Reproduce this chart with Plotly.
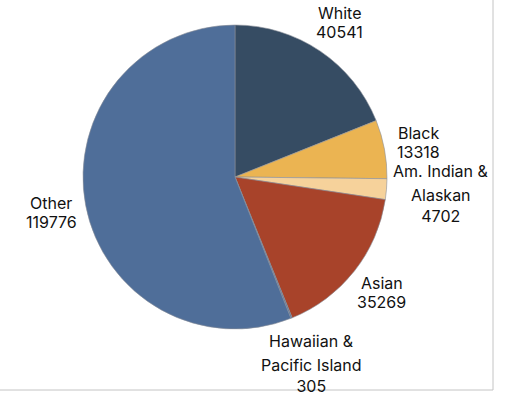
import math
import plotly.graph_objects as go

# Population by race
categories = ["White", "Black", "Am. Indian & Alaskan", "Asian",
              "Hawaiian & Pacific Island", "Other"]
label_lines = [["White"], ["Black"], ["Am. Indian &", "Alaskan"], ["Asian"],
               ["Hawaiian &", "Pacific Island"], ["Other"]]
values = [40541, 13318, 4702, 35269, 305, 119776]
colors = ["#364c63", "#ebb452", "#f6d29b", "#a8432a", "#5a7399", "#4f6e99"]

W, H = 506, 396
cx, cy, r = 235, 177, 152
FONT = dict(family="Inter, Liberation Sans, sans-serif", size=16, color="#111111")

fig = go.Figure(go.Pie(
    labels=categories,
    values=values,
    sort=False,
    direction="clockwise",
    rotation=0,
    marker=dict(colors=colors, line=dict(color="#8a8f99", width=0.6)),
    textinfo="none",
    hoverinfo="label+value",
    showlegend=False,
    domain=dict(x=[(cx - r) / W, (cx + r) / W],
                y=[(H - cy - r) / H, (H - cy + r) / H]),
))

# Outside labels placed along each slice's mid angle
# (wider, three-line labels sit a little further out horizontally)
total = sum(values)
start = 0.0
for lines, v in zip(label_lines, values):
    sweep = 360.0 * v / total
    mid = math.radians(start + sweep / 2)
    start += sweep
    if len(lines) == 1:
        rx, ry = 187, 187
        rows = [(lines[0], -9.5), (str(v), 9.5)]
    else:
        rx, ry = 207, 200
        rows = [(lines[0], -22), (lines[1] + "<br>" + str(v), 12.5)]
    bx = cx + rx * math.sin(mid)
    by = cy - ry * math.cos(mid)
    for text, dy in rows:
        fig.add_annotation(
            x=bx / W, y=(H - (by + dy)) / H, xref="paper", yref="paper",
            text=text, showarrow=False, xanchor="center", yanchor="middle",
            font=FONT,
        )

# Frame lines on the right and bottom edges
fig.add_shape(type="line", xref="paper", yref="paper",
              x0=493 / W, x1=493 / W, y0=(H - 390) / H, y1=1,
              line=dict(color="#c4c4c4", width=1))
fig.add_shape(type="line", xref="paper", yref="paper",
              x0=0, x1=493 / W, y0=(H - 390) / H, y1=(H - 390) / H,
              line=dict(color="#c4c4c4", width=1))

fig.update_layout(
    width=W, height=H,
    margin=dict(l=0, r=0, t=0, b=0),
    paper_bgcolor="white",
    plot_bgcolor="white",
)

fig.write_html("out.html")
